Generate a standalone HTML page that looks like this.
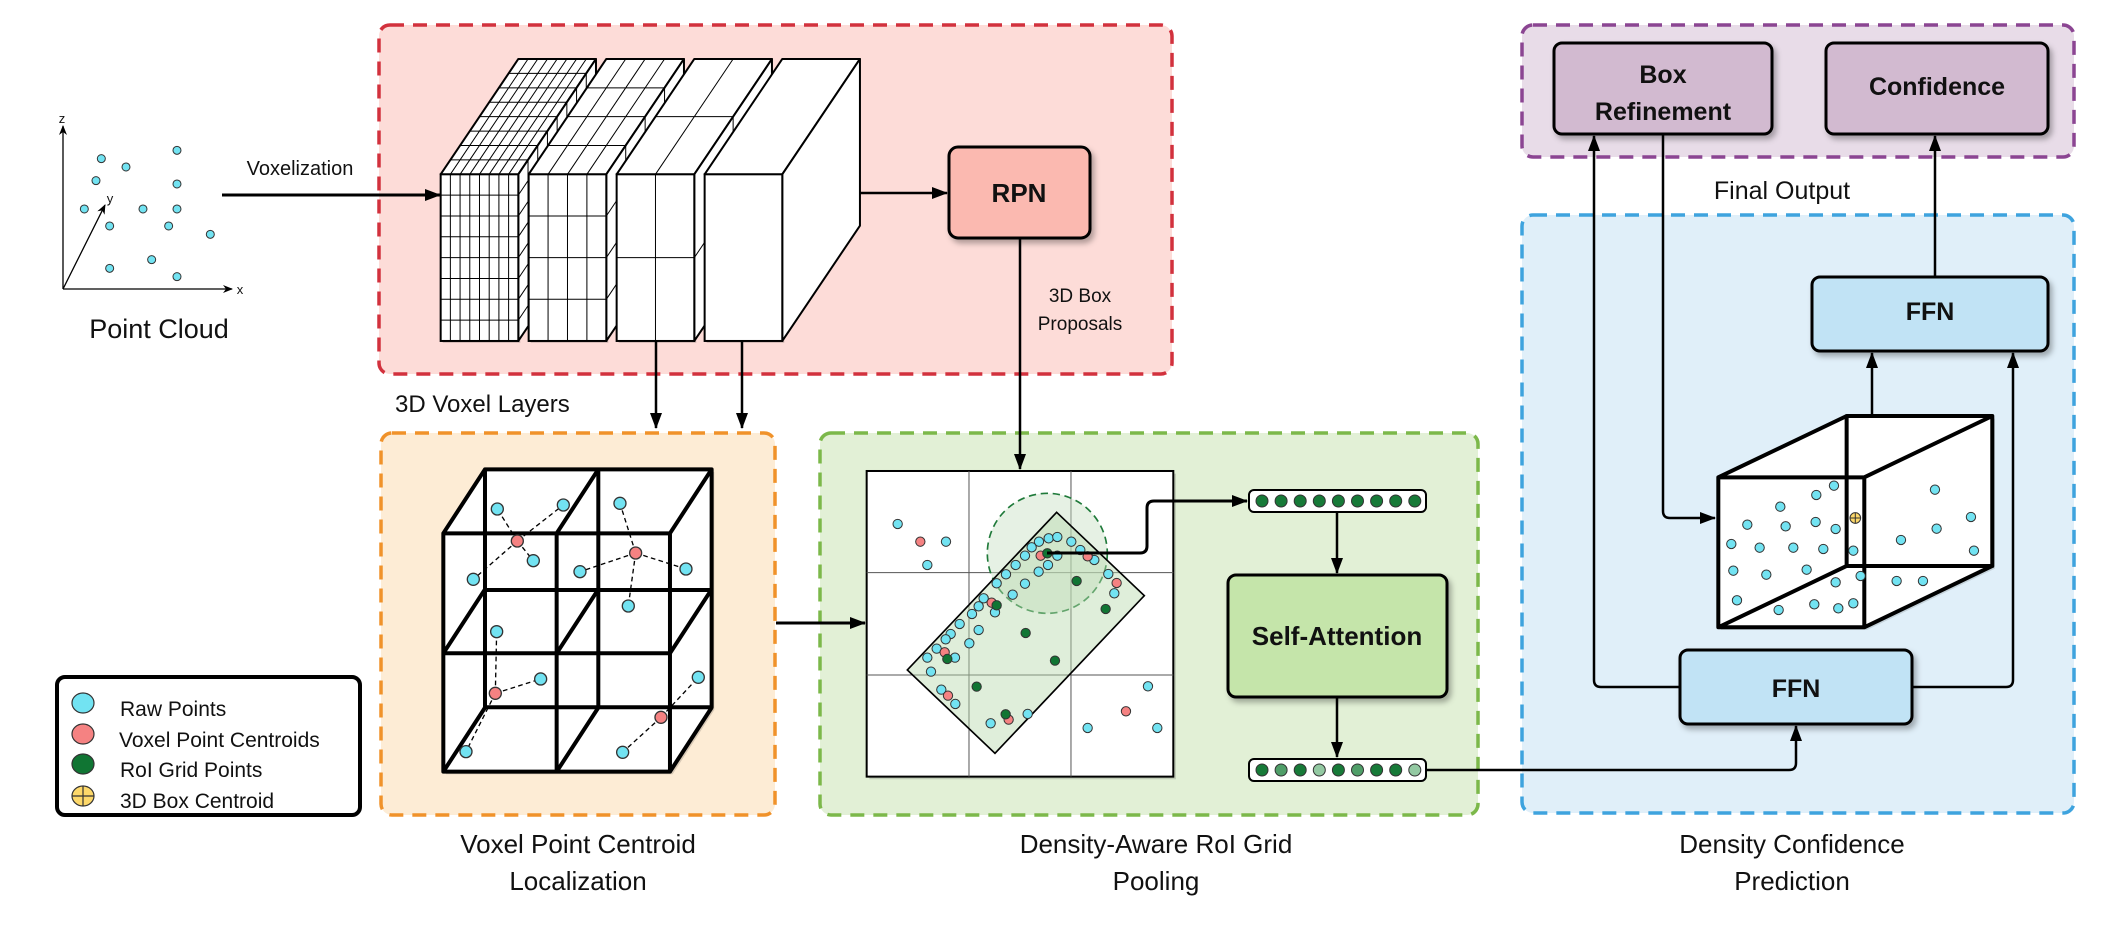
<!DOCTYPE html>
<html><head><meta charset="utf-8"><style>
html,body{margin:0;padding:0;background:#fff;}
svg{display:block;}
text{font-family:"Liberation Sans",Arial,sans-serif;fill:#111;}
.b{font-weight:bold;}
</style></head><body>
<svg id="s" width="2103" height="934" viewBox="0 0 2103 934" xmlns="http://www.w3.org/2000/svg">
<defs>
<marker id="ah" markerUnits="userSpaceOnUse" markerWidth="16" markerHeight="12" refX="15" refY="6" orient="auto"><path d="M0,0 L16,6 L0,12 z" fill="#000"/></marker>
<marker id="as" markerUnits="userSpaceOnUse" markerWidth="10" markerHeight="8" refX="9" refY="4" orient="auto"><path d="M0,0 L10,4 L0,8 L3,4 z" fill="#000"/></marker>
<filter id="sh" x="-10%" y="-10%" width="130%" height="130%"><feDropShadow dx="3" dy="4" stdDeviation="3" flood-color="#000" flood-opacity="0.3"/></filter>
</defs>

<rect x="379" y="25" width="793" height="349" rx="11" fill="#fddcd8" stroke="#d2313d" stroke-width="3.5" stroke-dasharray="14 9"/>
<rect x="381" y="433" width="394" height="382" rx="11" fill="#fdecd5" stroke="#f0922a" stroke-width="3.5" stroke-dasharray="14 9"/>
<rect x="820" y="433" width="658" height="382" rx="11" fill="#e2f0d6" stroke="#7cb84a" stroke-width="3.5" stroke-dasharray="14 9"/>
<rect x="1522" y="215" width="552" height="598" rx="11" fill="#e0eff9" stroke="#3ea3de" stroke-width="3.5" stroke-dasharray="14 9"/>
<rect x="1522" y="25" width="552" height="132" rx="11" fill="#e8dce8" stroke="#8b4592" stroke-width="3.5" stroke-dasharray="14 9"/>

<g stroke="#000" stroke-width="1.3" fill="none">
<line x1="63" y1="289" x2="63" y2="126" marker-end="url(#as)"/>
<line x1="63" y1="289" x2="232" y2="289" marker-end="url(#as)"/>
<line x1="63" y1="289" x2="105" y2="205" marker-end="url(#as)"/>
</g>
<text x="62" y="123" font-size="13" text-anchor="middle">z</text>
<text x="240" y="294" font-size="13" text-anchor="middle">x</text>
<text x="110" y="203" font-size="13" text-anchor="middle">y</text>
<g id="pc" transform="translate(0,90) scale(0.3333)"></g>
<text x="159" y="338" font-size="27" text-anchor="middle">Point Cloud</text>
<text x="300" y="175" font-size="20" text-anchor="middle">Voxelization</text>
<line x1="222" y1="195" x2="440" y2="195" stroke="#000" stroke-width="3" marker-end="url(#ah)"/>

<g id="vox" transform="translate(370,10) scale(0.3333)"></g>
<text x="395" y="412" font-size="24">3D Voxel Layers</text>
<line x1="656" y1="341" x2="656" y2="428" stroke="#000" stroke-width="2.5" marker-end="url(#ah)"/>
<line x1="742" y1="341" x2="742" y2="428" stroke="#000" stroke-width="2.5" marker-end="url(#ah)"/>
<line x1="860" y1="193" x2="947" y2="193" stroke="#000" stroke-width="2.5" marker-end="url(#ah)"/>

<rect x="949" y="147" width="141" height="91" rx="9" fill="#fbb9b0" stroke="#000" stroke-width="3" filter="url(#sh)"/>
<text x="1019" y="202" font-size="26" class="b" text-anchor="middle">RPN</text>
<line x1="1020" y1="238" x2="1020" y2="469" stroke="#000" stroke-width="2.5" marker-end="url(#ah)"/>
<text x="1080" y="302" font-size="19" text-anchor="middle">3D Box</text>
<text x="1080" y="330" font-size="19" text-anchor="middle">Proposals</text>

<g id="vc" transform="translate(380,430) scale(0.3333)"></g>
<line x1="776" y1="623" x2="865" y2="623" stroke="#000" stroke-width="3" marker-end="url(#ah)"/>

<g id="gr" transform="translate(850,430) scale(0.3333)"></g>

<rect x="57" y="677" width="303" height="138" rx="8" fill="#fff" stroke="#000" stroke-width="4"/>
<ellipse cx="83" cy="703" rx="11" ry="10" fill="#72e3f2" stroke="#333" stroke-width="1.2"/>
<ellipse cx="83" cy="734" rx="11" ry="10" fill="#f58282" stroke="#333" stroke-width="1.2"/>
<ellipse cx="83" cy="764" rx="11" ry="10" fill="#107533" stroke="#333" stroke-width="1.2"/>
<ellipse cx="83" cy="796" rx="11" ry="10" fill="#fdd86a" stroke="#333" stroke-width="1.2"/>
<path d="M72,796 H94 M83,786 V806" stroke="#333" stroke-width="1.2"/>
<text x="120" y="716" font-size="21">Raw Points</text>
<text x="119" y="747" font-size="21">Voxel Point Centroids</text>
<text x="120" y="777" font-size="21">RoI Grid Points</text>
<text x="120" y="808" font-size="21">3D Box Centroid</text>

<text x="578" y="853" font-size="26" text-anchor="middle">Voxel Point Centroid</text>
<text x="578" y="890" font-size="26" text-anchor="middle">Localization</text>
<text x="1156" y="853" font-size="26" text-anchor="middle">Density-Aware RoI Grid</text>
<text x="1156" y="890" font-size="26" text-anchor="middle">Pooling</text>
<text x="1792" y="853" font-size="26" text-anchor="middle">Density Confidence</text>
<text x="1792" y="890" font-size="26" text-anchor="middle">Prediction</text>
<text x="1782" y="199" font-size="25" text-anchor="middle">Final Output</text>

<g id="fv"></g>
<line x1="1337" y1="512" x2="1337" y2="573" stroke="#000" stroke-width="2.5" marker-end="url(#ah)"/>
<rect x="1228" y="575" width="219" height="122" rx="8" fill="#c5e5aa" stroke="#000" stroke-width="3" filter="url(#sh)"/>
<text x="1337" y="645" font-size="26" class="b" text-anchor="middle">Self-Attention</text>
<line x1="1337" y1="697" x2="1337" y2="757" stroke="#000" stroke-width="2.5" marker-end="url(#ah)"/>

<rect x="1554" y="43" width="218" height="91" rx="8" fill="#d2bad0" stroke="#000" stroke-width="3" filter="url(#sh)"/>
<text x="1663" y="83" font-size="25" class="b" text-anchor="middle">Box</text>
<text x="1663" y="120" font-size="25" class="b" text-anchor="middle">Refinement</text>
<rect x="1826" y="43" width="222" height="91" rx="8" fill="#d2bad0" stroke="#000" stroke-width="3" filter="url(#sh)"/>
<text x="1937" y="95" font-size="25" class="b" text-anchor="middle">Confidence</text>
<rect x="1812" y="277" width="236" height="74" rx="8" fill="#c1e3f5" stroke="#000" stroke-width="3" filter="url(#sh)"/>
<text x="1930" y="320" font-size="25" class="b" text-anchor="middle">FFN</text>
<rect x="1680" y="650" width="232" height="74" rx="8" fill="#c1e3f5" stroke="#000" stroke-width="3" filter="url(#sh)"/>
<text x="1796" y="697" font-size="25" class="b" text-anchor="middle">FFN</text>
<g id="bc" transform="translate(1540,400) scale(0.3333)"></g>
<g fill="none" stroke="#000" stroke-width="2.5">
<path d="M1680,687 H1601 Q1594,687 1594,680 V136" marker-end="url(#ah)"/>
<path d="M1912,687 H2006 Q2013,687 2013,680 V353" marker-end="url(#ah)"/>
<path d="M1663,134 V511 Q1663,518 1670,518 H1715" marker-end="url(#ah)"/>
<line x1="1872" y1="416" x2="1872" y2="353" marker-end="url(#ah)"/>
<line x1="1935" y1="277" x2="1935" y2="136" marker-end="url(#ah)"/>
<path d="M1426,770 H1789 Q1796,770 1796,763 V726" marker-end="url(#ah)"/>
</g>
<path d="M1047,553 H1140 Q1147,553 1147,546 V508 Q1147,501 1154,501 H1247" fill="none" stroke="#000" stroke-width="3" marker-end="url(#ah)"/>
</svg>
<script>
(function(){
var NS="http://www.w3.org/2000/svg";
function el(p,t,a){var e=document.createElementNS(NS,t);for(var k in a)e.setAttribute(k,a[k]);p.appendChild(e);return e;}
var CY="#72e3f2",RD="#f58282",GR="#107533";
function dot(p,x,y,r,c,sw){el(p,"circle",{cx:x,cy:y,r:r,fill:c,stroke:"#333","stroke-width":sw});}
function poly(g,pts){el(g,"polygon",{points:pts.map(function(p){return p.join(",");}).join(" "),fill:"#fff",stroke:"#000","stroke-width":6,"stroke-linejoin":"round"});}
try{
var pc=document.getElementById("pc");
[[304,206],[378,231],[531,181],[288,272],[531,282],[253,357],[429,357],[531,357],[329,408],[506,408],[631,433],[455,509],[329,535],[531,560]].forEach(function(p){dot(pc,p[0],p[1],12,CY,3);});
}catch(e){}
try{
var vx=document.getElementById("vox");
var ns=[8,4,2,1];
for(var k=0;k<4;k++){
 var x0=212+264*k,W=233,H=500,DX=233,DY=-346,n=ns[k],g=el(vx,"g",{});
 var tp=[[x0,493],[x0+DX,493+DY],[x0+W+DX,493+DY],[x0+W,493]];
 var sd=[[x0+W,493],[x0+W+DX,493+DY],[x0+W+DX,993+DY],[x0+W,993]];
 el(g,"rect",{x:x0+6,y:499,width:W,height:H,fill:"#000","fill-opacity":"0.15"});
 poly(g,tp);poly(g,sd);
 var d="";
 for(var i=1;i<n;i++){var t=i/n;
  d+="M"+(x0+DX*t)+","+(493+DY*t)+"L"+(x0+W+DX*t)+","+(493+DY*t);
  d+="M"+(x0+W*t)+",493L"+(x0+W*t+DX)+","+(493+DY);
  d+="M"+(x0+W+DX*t)+","+(493+DY*t)+"L"+(x0+W+DX*t)+","+(993+DY*t);
  d+="M"+(x0+W)+","+(493+H*t)+"L"+(x0+W+DX)+","+(493+DY+H*t);
 }
 if(d)el(g,"path",{d:d,stroke:"#000","stroke-width":3,fill:"none"});
 el(g,"rect",{x:x0,y:493,width:W,height:H,fill:"#fff",stroke:"#000","stroke-width":6});
 d="";
 for(var i=1;i<n;i++){var t=i/n;d+="M"+(x0+W*t)+",493V993M"+x0+","+(493+H*t)+"H"+(x0+W);}
 if(d)el(g,"path",{d:d,stroke:"#000","stroke-width":3,fill:"none"});
}
}catch(e){}
try{
var vc=document.getElementById("vc");
el(vc,"polygon",{points:"198,318 323,126 1003,126 1003,840 878,1033 198,1033",fill:"#000","fill-opacity":"0.15"});
el(vc,"polygon",{points:"190,310 315,118 995,118 995,832 870,1025 190,1025",fill:"#fff"});
var cd="M190,310H870V1025H190ZM530,310V1025M190,670H870M315,118H995V832H315ZM655,118V832M315,480H995";
[[190,310],[530,310],[870,310],[190,670],[530,670],[870,670],[190,1025],[530,1025],[870,1025]].forEach(function(p){cd+="M"+p[0]+","+p[1]+"L"+(p[0]+125)+","+(p[1]-192);});
el(vc,"path",{d:cd,fill:"none",stroke:"#000","stroke-width":12,"stroke-linejoin":"round"});
var dl=[[412,333,[[352,237],[550,225],[460,392],[280,448]]],[767,369,[[720,220],[600,425],[918,417],[745,528]]],[346,790,[[350,605],[482,747],[258,965]]],[843,862,[[955,742],[728,967]]]];
dl.forEach(function(c){c[2].forEach(function(p){el(vc,"line",{x1:c[0],y1:c[1],x2:p[0],y2:p[1],stroke:"#000","stroke-width":4,"stroke-dasharray":"14 10"});});});
dl.forEach(function(c){c[2].forEach(function(p){dot(vc,p[0],p[1],18,CY,4);});dot(vc,c[0],c[1],18,RD,4);});
}catch(e){}
try{
var gr=document.getElementById("gr");
el(gr,"rect",{x:58,y:131,width:920,height:917,fill:"#000","fill-opacity":"0.15"});
el(gr,"rect",{x:50,y:123,width:920,height:917,fill:"#fff",stroke:"#000","stroke-width":6});
el(gr,"path",{d:"M357,123V1040M663,123V1040M50,428H970M50,735H970",stroke:"#555","stroke-width":3,fill:"none"});
el(gr,"circle",{cx:592,cy:370,r:180,fill:"#c8dfc4","fill-opacity":"0.45",stroke:"#1f7a3a","stroke-width":5,"stroke-dasharray":"22 14"});
el(gr,"polygon",{points:"620,247 883,497 435,970 172,720",fill:"#b9d9ad","fill-opacity":"0.45",stroke:"#000","stroke-width":5});
[[143,282],[288,335],[232,405],[567,335],[596,325],[622,321],[545,352],[525,377],[497,405],[468,433],[440,460],[566,425],[594,405],[622,377],[664,335],[691,360],[733,390],[775,432],[793,490],[525,461],[488,494],[401,505],[386,529],[435,547],[366,552],[329,582],[386,600],[302,612],[287,628],[358,640],[260,656],[232,683],[315,683],[243,725],[274,779],[316,822],[533,852],[422,880],[713,894],[894,769],[922,894]].forEach(function(p){dot(gr,p[0],p[1],14,CY,3);});
[[211,335],[572,377],[713,379],[800,459],[425,518],[284,667],[294,797],[476,869],[828,844]].forEach(function(p){dot(gr,p[0],p[1],14,RD,3);});
[[592,370],[680,453],[767,537],[440,526],[527,609],[615,692],[292,687],[380,770],[467,853]].forEach(function(p){dot(gr,p[0],p[1],14,GR,3);});
}catch(e){}
try{
var fv=document.getElementById("fv");
var vec=function(y,cols){el(fv,"rect",{x:1249,y:y-11,width:177,height:22,rx:5,fill:"#fff",stroke:"#000","stroke-width":2});
 cols.forEach(function(c,i){dot(fv,1262+19.1*i,y,6,c,1);});};
var D="#177a38",M="#4f9e68",L="#93c9a2";
vec(501,[D,D,D,D,D,D,D,D,D]);
vec(770,[D,M,D,L,D,M,D,D,L]);
}catch(e){}
try{
var bc=document.getElementById("bc");
el(bc,"polygon",{points:"543,240 928,56 1365,56 1365,506 981,690 543,690",fill:"#000","fill-opacity":"0.12"});
el(bc,"polygon",{points:"535,232 920,48 1357,48 1357,498 973,682 535,682",fill:"#fff"});
el(bc,"path",{d:"M535,232H973V682H535ZM920,48H1357V498H920ZM535,232L920,48M973,232L1357,48M973,682L1357,498M535,682L920,498",fill:"none",stroke:"#000","stroke-width":12,"stroke-linejoin":"round"});
[[882,257],[829,285],[721,320],[622,374],[737,379],[827,366],[887,387],[574,432],[659,443],[760,443],[850,447],[940,452],[580,512],[679,524],[800,509],[887,547],[962,528],[591,601],[716,630],[823,613],[895,625],[940,610],[1185,269],[1293,351],[1190,386],[1083,420],[1302,452],[1070,543],[1149,543]].forEach(function(p){dot(bc,p[0],p[1],14,CY,3);});
dot(bc,946,354,16,"#fdd86a",3);
el(bc,"path",{d:"M930,354H962M946,338V370",stroke:"#333","stroke-width":3});
}catch(e){}
})();
</script>
</body></html>
